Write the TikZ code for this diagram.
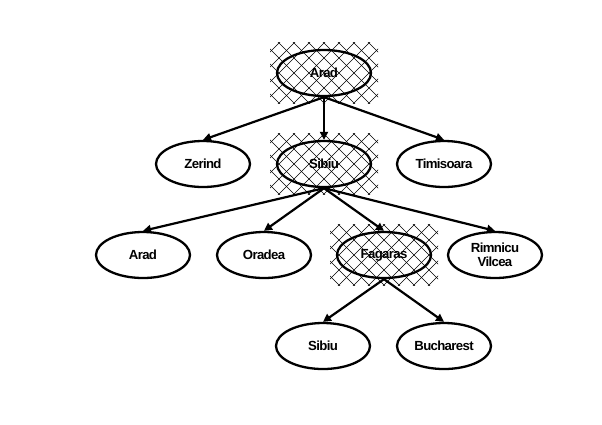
\documentclass[tikz,border=0pt]{standalone}
\usepackage{fontspec}
\setmainfont{Liberation Sans}[LetterSpace=-5]
\usetikzlibrary{shapes.geometric,arrows.meta}
\begin{document}
\begin{tikzpicture}[x=1bp,y=-1bp,
  city/.style={ellipse,draw,line width=2.3bp,minimum width=94bp,minimum height=46bp,inner sep=0pt,
    align=center,font=\fontsize{13.2bp}{14bp}\selectfont\bfseries},
  edge/.style={line width=2.2bp,-{Triangle[length=8bp,width=8bp]}},
  hatchline/.style={line width=0.55bp,black}]
\useasboundingbox (0,0) rectangle (602,424);
% crosshatched expanded-node backgrounds
\foreach \cx/\cy in {324/73, 324/164, 384/255}{
  \begin{scope}
    \clip (\cx-54,\cy-31) rectangle (\cx+54,\cy+30);
    \foreach \k in {-8,...,8}{
      \draw[hatchline] (\cx+\k*15-70,\cy-70) -- (\cx+\k*15+70,\cy+70);
      \draw[hatchline] (\cx+\k*15+70,\cy-70) -- (\cx+\k*15-70,\cy+70);
    }
  \end{scope}
}
% nodes
\node[city] (arad)  at (324,73)  {Arad};
\node[city] (zer)   at (203,164) {Zerind};
\node[city] (sib)   at (324,164) {Sibiu};
\node[city] (tim)   at (444,164) {Timisoara};
\node[city] (arad2) at (143,255) {Arad};
\node[city] (ora)   at (264,255) {Oradea};
\node[city] (fag)   at (384,255) {Fagaras};
\node[city] (rim)   at (495,255) {Rimnicu\\Vilcea};
\node[city] (sib2)  at (323,346) {Sibiu};
\node[city] (buc)   at (444,346) {Bucharest};
% edges
\draw[edge] (arad.south) -- (zer.north);
\draw[edge] (arad.south) -- (sib.north);
\draw[edge] (arad.south) -- (tim.north);
\draw[edge] (sib.south) -- (arad2.north);
\draw[edge] (sib.south) -- (ora.north);
\draw[edge] (sib.south) -- (fag.north);
\draw[edge] (sib.south) -- (rim.north);
\draw[edge] (fag.south) -- (sib2.north);
\draw[edge] (fag.south) -- (buc.north);
\end{tikzpicture}
\end{document}
